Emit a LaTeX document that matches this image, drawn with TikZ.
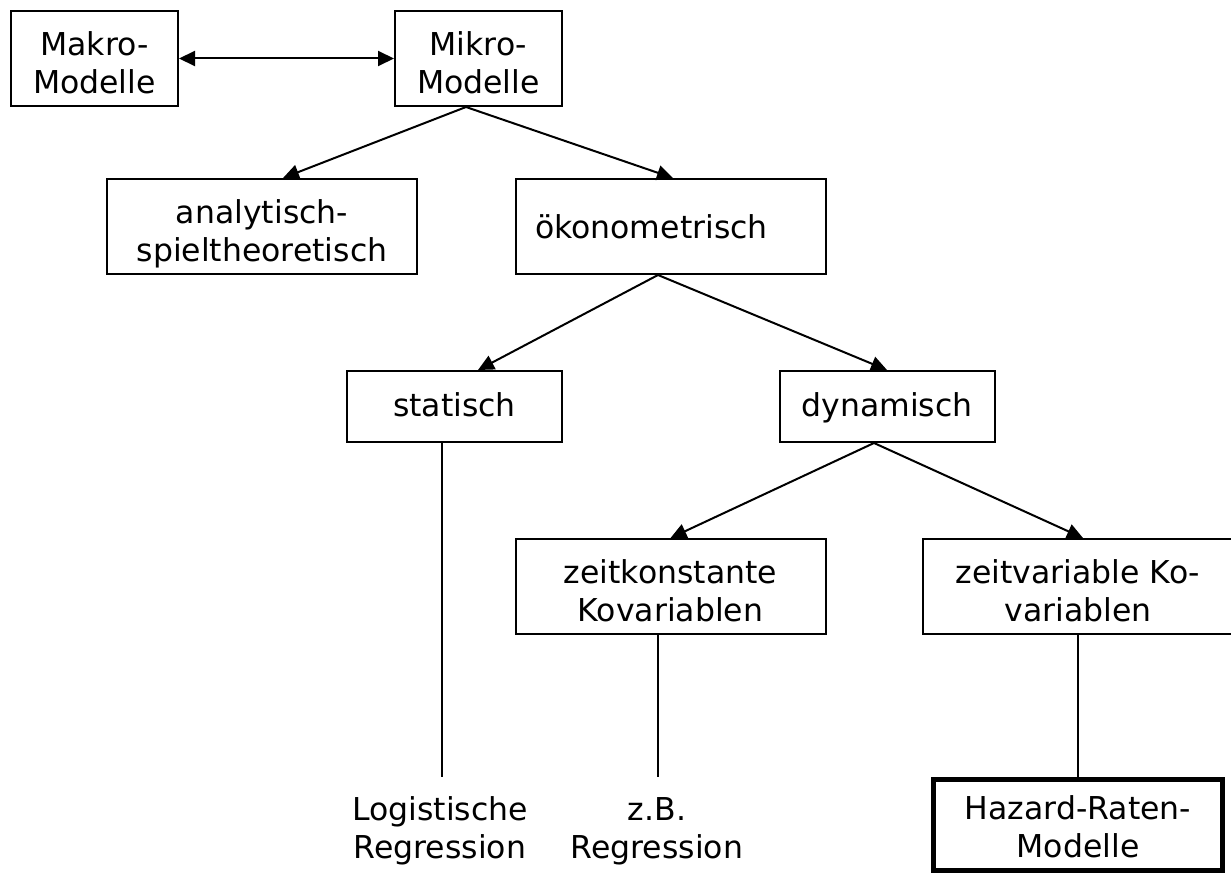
\documentclass[tikz,border=0pt]{standalone}
\usepackage{fontspec}
\setmainfont{DejaVu Sans}
\usetikzlibrary{arrows.meta}
\begin{document}
\begin{tikzpicture}[x=1pt, y=-1pt,
    box/.style={draw, line width=2pt, inner sep=0pt, align=center, font=\fontsize{31.5}{38}\selectfont, text height=69pt, text depth=0pt, minimum height=95pt},
    small box/.style={box, minimum width=167pt},
    wide box/.style={box, minimum width=310pt},
    one line/.style={box, text height=20pt, minimum width=215pt, minimum height=71pt},
    result/.style={inner sep=0pt, align=center, font=\fontsize{31.5}{38}\selectfont, text height=69pt, text depth=0pt},
    arr/.style={line width=2pt, -{Triangle[length=16pt,width=15pt]}},
    dbl/.style={line width=2pt, {Triangle[length=16pt,width=15pt]}-{Triangle[length=16pt,width=15pt]}},
    ln/.style={line width=2pt}]
    \useasboundingbox (0,0) rectangle (1231,875);
    % first row
    \node[small box] (makro) at (94.5,58.5) {Makro-\\Modelle};
    \node[small box] (mikro) at (478.5,58.5) {Mikro-\\Modelle};
    \draw[dbl] (makro.east) -- (mikro.west);
    % second row
    \node[wide box] (ana) at (262,226.5) {analytisch-\\spieltheoretisch};
    \node[wide box, text width=271pt, align=left, text height=23pt] (oeko) at (670.5,226.5) {ökonometrisch};
    \draw[arr] ([xshift=-12.5pt]mikro.south) -- ([xshift=21pt]ana.north);
    \draw[arr] ([xshift=-12.5pt]mikro.south) -- ([xshift=2.5pt]oeko.north);
    % third row
    \node[one line] (stat) at (454.5,406.5) {statisch};
    \node[one line] (dyn) at (887,406.5) {dynamisch};
    \draw[arr] ([xshift=-12.5pt]oeko.south) -- ([xshift=23.5pt]stat.north);
    \draw[arr] ([xshift=-12.5pt]oeko.south) -- (dyn.north);
    % fourth row
    \node[wide box] (zk) at (670.5,586.5) {zeitkonstante\\Kovariablen};
    \node[wide box] (zv) at (1078,586.5) {zeitvariable Ko-\\variablen};
    \draw[arr] ([xshift=-13pt]dyn.south) -- (zk.north);
    \draw[arr] ([xshift=-13pt]dyn.south) -- ([xshift=5pt]zv.north);
    % bottom
    \node[result] (logreg) at (440,823.5) {Logistische\\Regression};
    \node[result] (zbreg) at (657,823.5) {z.B.\\Regression};
    \node[box, line width=5pt, text height=64pt, minimum width=289pt, minimum height=91pt] (haz) at (1078,825) {Hazard-Raten-\\Modelle};
    \coordinate (logend) at (442,777);
    \coordinate (zbend) at (658,777);
    \draw[ln] ([xshift=-12.5pt]stat.south) -- (logend);
    \draw[ln] ([xshift=-12.5pt]zk.south) -- (zbend);
    \draw[ln] (zv.south) -- (haz.north);
\end{tikzpicture}
\end{document}
